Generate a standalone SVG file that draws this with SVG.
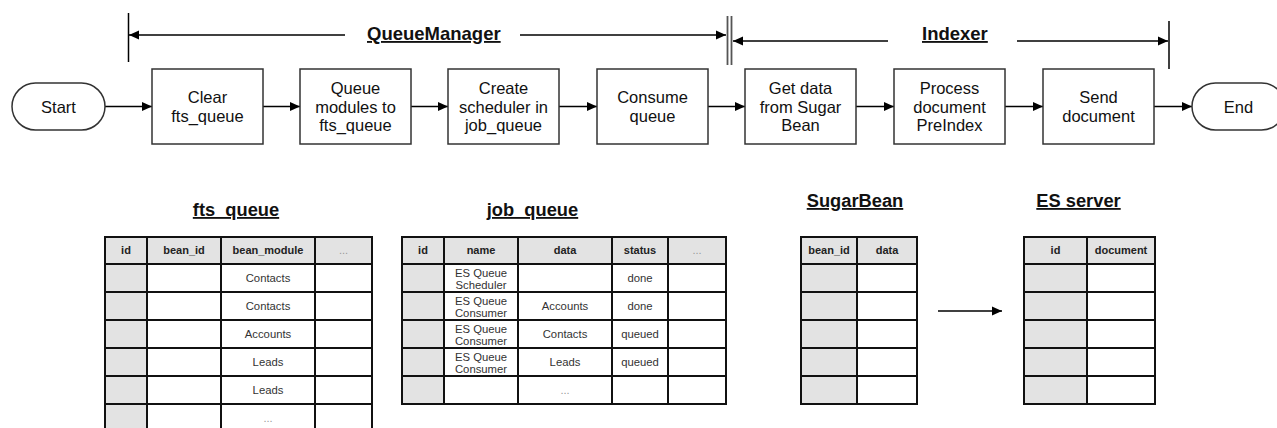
<svg xmlns="http://www.w3.org/2000/svg" width="1277" height="428" viewBox="0 0 1277 428">
<defs>
<marker id="ah" viewBox="0 0 10 10" refX="10" refY="5" markerWidth="10" markerHeight="10" markerUnits="userSpaceOnUse" orient="auto">
<path d="M0,0.5 L10,5 L0,9.5 Z" fill="#000"/>
</marker>
<style>
.box{fill:#fff;stroke:#333;stroke-width:1.5}
.bt{font-family:"Liberation Sans",Arial,sans-serif;font-size:16.5px;fill:#111;text-anchor:middle}
.ttl{font-family:"Liberation Sans",Arial,sans-serif;font-size:18.5px;font-weight:bold;fill:#111;text-decoration:underline}
.tt{font-family:"Liberation Sans",Arial,sans-serif;font-size:18.3px;font-weight:bold;fill:#111;text-decoration:underline;text-anchor:middle}
.ln{stroke:#000;stroke-width:1.5;fill:none}
.hd{fill:#e3e3e3}
.grid{stroke:#111;stroke-width:2;fill:none}
.th{font-family:"Liberation Sans",Arial,sans-serif;font-size:11px;font-weight:bold;fill:#222;text-anchor:middle}
.td{font-family:"Liberation Sans",Arial,sans-serif;font-size:11.3px;fill:#333;text-anchor:middle}
.dots{font-family:"Liberation Sans",Arial,sans-serif;font-size:11px;fill:#999;text-anchor:middle}
</style>
</defs>

<g id="connectors">
<line class="ln" x1="105" y1="106.5" x2="152" y2="106.5" marker-end="url(#ah)"/>
<line class="ln" x1="263" y1="106.5" x2="300" y2="106.5" marker-end="url(#ah)"/>
<line class="ln" x1="411" y1="106.5" x2="448" y2="106.5" marker-end="url(#ah)"/>
<line class="ln" x1="559" y1="106.5" x2="597" y2="106.5" marker-end="url(#ah)"/>
<line class="ln" x1="708" y1="106.5" x2="745" y2="106.5" marker-end="url(#ah)"/>
<line class="ln" x1="856" y1="106.5" x2="894" y2="106.5" marker-end="url(#ah)"/>
<line class="ln" x1="1005" y1="106.5" x2="1043" y2="106.5" marker-end="url(#ah)"/>
<line class="ln" x1="1154" y1="106.5" x2="1192" y2="106.5" marker-end="url(#ah)"/>
<line class="ln" x1="938" y1="311" x2="1002" y2="311" marker-end="url(#ah)"/>
</g>

<g id="bracket-queuemanager">
<line class="ln" x1="128.5" y1="13" x2="128.5" y2="62"/>
<line class="ln" x1="345" y1="35" x2="129" y2="35" marker-end="url(#ah)"/>
<text class="ttl" x="367" y="40">QueueManager</text>
<line class="ln" x1="520" y1="35" x2="726" y2="35" marker-end="url(#ah)"/>
<line x1="727.5" y1="16" x2="727.5" y2="65" stroke="#555" stroke-width="1.8"/>
<line x1="731.5" y1="16" x2="731.5" y2="65" stroke="#555" stroke-width="1.8"/>
</g>

<g id="bracket-indexer">
<line class="ln" x1="888" y1="41" x2="733" y2="41" marker-end="url(#ah)"/>
<text class="ttl" x="922" y="40">Indexer</text>
<line class="ln" x1="1017" y1="41" x2="1168" y2="41" marker-end="url(#ah)"/>
<line class="ln" x1="1169" y1="21" x2="1169" y2="69"/>
</g>

<g id="start">
<rect class="box" x="12" y="83" width="93" height="47" rx="23.5"/>
<text class="bt" x="58.5" y="112.5">Start</text>
</g>
<g id="clear">
<rect class="box" x="152" y="69" width="111" height="75"/>
<text class="bt" x="207.5" y="103.3">Clear</text>
<text class="bt" x="207.5" y="121.8">fts_queue</text>
</g>
<g id="queue-modules">
<rect class="box" x="300" y="69" width="111" height="75"/>
<text class="bt" x="355.5" y="94">Queue</text>
<text class="bt" x="355.5" y="112.5">modules to</text>
<text class="bt" x="355.5" y="131">fts_queue</text>
</g>
<g id="create-scheduler">
<rect class="box" x="448" y="69" width="111" height="75"/>
<text class="bt" x="503.5" y="94">Create</text>
<text class="bt" x="503.5" y="112.5">scheduler in</text>
<text class="bt" x="503.5" y="131">job_queue</text>
</g>
<g id="consume">
<rect class="box" x="597" y="69" width="111" height="75"/>
<text class="bt" x="652.5" y="103.3">Consume</text>
<text class="bt" x="652.5" y="121.8">queue</text>
</g>
<g id="get-data">
<rect class="box" x="745" y="69" width="111" height="75"/>
<text class="bt" x="800.5" y="94">Get data</text>
<text class="bt" x="800.5" y="112.5">from Sugar</text>
<text class="bt" x="800.5" y="131">Bean</text>
</g>
<g id="process">
<rect class="box" x="894" y="69" width="111" height="75"/>
<text class="bt" x="949.5" y="94">Process</text>
<text class="bt" x="949.5" y="112.5">document</text>
<text class="bt" x="949.5" y="131">PreIndex</text>
</g>
<g id="send">
<rect class="box" x="1043" y="69" width="111" height="75"/>
<text class="bt" x="1098.5" y="103.3">Send</text>
<text class="bt" x="1098.5" y="121.8">document</text>
</g>
<g id="end">
<rect class="box" x="1192" y="83" width="93" height="47" rx="23.5"/>
<text class="bt" x="1238.5" y="112.5">End</text>
</g>

<g id="fts_queue">
<text class="tt" x="236" y="216">fts_queue</text>
<rect class="hd" x="105" y="237" width="267" height="27"/>
<rect class="hd" x="105" y="264" width="42" height="170"/>
<path class="grid" d="M105,237 H372 M105,264 H372 M105,292 H372 M105,320 H372 M105,348 H372 M105,376 H372 M105,404 H372 M105,236 V434 M147,237 V434 M221,237 V434 M315,237 V434 M372,236 V434"/>
<text class="th" x="126" y="254">id</text>
<text class="th" x="184" y="254">bean_id</text>
<text class="th" x="268" y="254">bean_module</text>
<text class="dots" x="343.5" y="254">...</text>
<text class="td" x="268" y="282">Contacts</text>
<text class="td" x="268" y="310">Contacts</text>
<text class="td" x="268" y="338">Accounts</text>
<text class="td" x="268" y="366">Leads</text>
<text class="td" x="268" y="394">Leads</text>
<text class="dots" x="268" y="422">...</text>
</g>

<g id="job_queue">
<text class="tt" x="532.5" y="216">job_queue</text>
<rect class="hd" x="402" y="237" width="324" height="27"/>
<rect class="hd" x="402" y="264" width="42" height="140"/>
<path class="grid" d="M402,237 H726 M402,264 H726 M402,292 H726 M402,320 H726 M402,348 H726 M402,376 H726 M401,404 H727 M402,236 V405 M444,237 V404 M518,237 V404 M612,237 V404 M668,237 V404 M726,236 V405"/>
<text class="th" x="423" y="254">id</text>
<text class="th" x="481" y="254">name</text>
<text class="th" x="565" y="254">data</text>
<text class="th" x="640" y="254">status</text>
<text class="dots" x="697" y="254">...</text>
<text class="td" x="481" y="277.3">ES Queue</text>
<text class="td" x="481" y="288.7">Scheduler</text>
<text class="td" x="640" y="282">done</text>
<text class="td" x="481" y="305.3">ES Queue</text>
<text class="td" x="481" y="316.7">Consumer</text>
<text class="td" x="565" y="310">Accounts</text>
<text class="td" x="640" y="310">done</text>
<text class="td" x="481" y="333.3">ES Queue</text>
<text class="td" x="481" y="344.7">Consumer</text>
<text class="td" x="565" y="338">Contacts</text>
<text class="td" x="640" y="338">queued</text>
<text class="td" x="481" y="361.3">ES Queue</text>
<text class="td" x="481" y="372.7">Consumer</text>
<text class="td" x="565" y="366">Leads</text>
<text class="td" x="640" y="366">queued</text>
<text class="dots" x="565" y="394">...</text>
</g>

<g id="sugarbean">
<text class="tt" x="855" y="207">SugarBean</text>
<rect class="hd" x="801" y="237" width="116" height="27"/>
<rect class="hd" x="801" y="264" width="56" height="140"/>
<path class="grid" d="M801,237 H917 M801,264 H917 M801,292 H917 M801,320 H917 M801,348 H917 M801,376 H917 M800,404 H918 M801,236 V405 M857,237 V404 M917,236 V405"/>
<text class="th" x="829" y="254">bean_id</text>
<text class="th" x="887" y="254">data</text>
</g>

<g id="es-server">
<text class="tt" x="1078.5" y="207">ES server</text>
<rect class="hd" x="1024" y="237" width="131" height="27"/>
<rect class="hd" x="1024" y="264" width="63" height="140"/>
<path class="grid" d="M1024,237 H1155 M1024,264 H1155 M1024,292 H1155 M1024,320 H1155 M1024,348 H1155 M1024,376 H1155 M1023,404 H1156 M1024,236 V405 M1087,237 V404 M1155,236 V405"/>
<text class="th" x="1055.5" y="254">id</text>
<text class="th" x="1121" y="254">document</text>
</g>
</svg>
